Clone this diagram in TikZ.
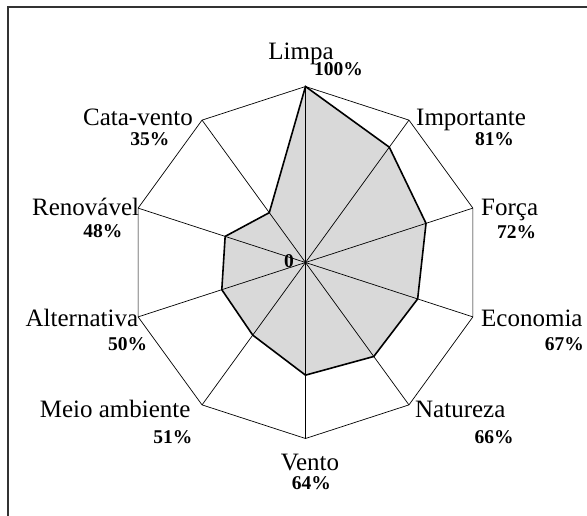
\documentclass[tikz,border=0pt]{standalone}
\usepackage{fontspec}
\setmainfont{Liberation Serif}
\usetikzlibrary{calc}

\begin{document}
\begin{tikzpicture}[x=1pt, y=1pt,
    lbl/.style={font=\fontsize{25}{27}\selectfont, inner sep=0pt, text depth=0pt},
    pct/.style={font=\fontsize{19.5}{21}\selectfont\bfseries, inner sep=0pt},
    axis/.style={line width=0.7pt}]
    \useasboundingbox (-305.5,-252.5) rectangle (281.5,262.5);
    \clip (-305.5,-252.5) rectangle (281.5,262.5);
    % frame of the chart area
    \draw [line width=1.2pt, black!80] (-297.5,-270) rectangle (300,255.5);

    \coordinate (c) at (0,0);
    \foreach \i/\a/\v in {1/90/100, 2/54/81, 3/18/72, 4/-18/67, 5/-54/66,
                          6/-90/64, 7/-126/51, 8/-162/50, 9/162/48, 10/126/35} {
        \coordinate (o\i) at (\a:176);
        \coordinate (d\i) at (\a:{1.76*\v});
    }

    % grid
    \draw [axis] (o1) \foreach \i in {2,...,10} { -- (o\i) } -- cycle;
    \fill [black!15] (d1) \foreach \i in {2,...,10} { -- (d\i) } -- cycle;
    \foreach \i in {1,...,10} { \draw [axis] (c) -- (o\i); }
    \draw [line width=1.6pt, line join=miter] (d1) \foreach \i in {2,...,10} { -- (d\i) } -- cycle;

    % labels
    \node [lbl, anchor=base] (limpa) at (-4.5,203.5) {Limpa};
    \node [pct, anchor=base] (plimpa) at (33,187.5) {100\%};
    \node [lbl, anchor=base west] (importante) at (110.5,137.5) {Importante};
    \node [pct, anchor=base] (pimportante) at (189,117.5) {81\%};
    \node [lbl, anchor=base west] (forca) at (175.5,47.5) {Força};
    \node [pct, anchor=base] (pforca) at (211.2,24.2) {72\%};
    \node [lbl, anchor=base west] (economia) at (175.5,-64.2) {Economia};
    \node [pct, anchor=base east] (peconomia) at (278.5,-87.5) {67\%};
    \node [lbl, anchor=base west] (natureza) at (109.5,-154.8) {Natureza};
    \node [pct, anchor=base] (pnatureza) at (188.5,-180.5) {66\%};
    \node [lbl, anchor=base] (vento) at (4.5,-207.5) {Vento};
    \node [pct, anchor=base] (pvento) at (5.8,-227) {64\%};
    \node [lbl, anchor=base east] (meio) at (-114.8,-154.8) {Meio ambiente};
    \node [pct, anchor=base east] (pmeio) at (-112.8,-180.8) {51\%};
    \node [lbl, anchor=base east] (alternativa) at (-167.2,-64.2) {Alternativa};
    \node [pct, anchor=base east] (palternativa) at (-158.2,-88.2) {50\%};
    \node [lbl, anchor=base east] (renovavel) at (-166.2,47.5) {Renovável};
    \node [pct, anchor=base east] (prenovavel) at (-182.8,25.2) {48\%};
    \node [lbl, anchor=base east] (catavento) at (-112.5,137.5) {Cata-vento};
    \node [pct, anchor=base] (pcatavento) at (-155.5,117.5) {35\%};
    \node [pct, anchor=base east] (zero) at (-11.5,-4.8) {0};
\end{tikzpicture}
\end{document}
